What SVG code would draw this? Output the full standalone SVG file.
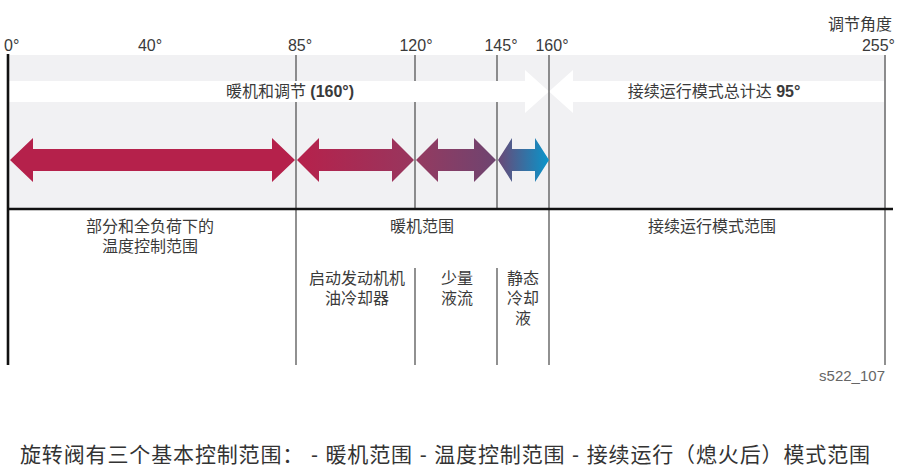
<svg xmlns="http://www.w3.org/2000/svg" width="900" height="474" viewBox="0 0 900 474">
<defs>
<style>
.t{font-family:"Liberation Sans","Noto Sans CJK SC",sans-serif;fill:#3a3a3a;}
.deg{font-size:16px;}
.lbl{font-size:16px;text-anchor:middle;}
.vl{stroke:#555;stroke-width:1.3;fill:none;}
</style>
<linearGradient id="g2" gradientUnits="userSpaceOnUse" x1="297" y1="0" x2="414" y2="0"><stop offset="0" stop-color="#b6214b"/><stop offset="1" stop-color="#98365e"/></linearGradient>
<linearGradient id="g3" gradientUnits="userSpaceOnUse" x1="416" y1="0" x2="496" y2="0"><stop offset="0" stop-color="#953a60"/><stop offset="1" stop-color="#6e4470"/></linearGradient>
<linearGradient id="g4" gradientUnits="userSpaceOnUse" x1="498" y1="0" x2="549" y2="0"><stop offset="0" stop-color="#6a4876"/><stop offset="1" stop-color="#0895cb"/></linearGradient>
</defs>
<rect width="900" height="474" fill="#ffffff"/>
<g id="background">
<rect x="8" y="55" width="878" height="154" fill="#f1f1f3"/>
</g>
<g id="connectors">
<line class="vl" x1="296" y1="55" x2="296" y2="365"/>
<line class="vl" x1="415" y1="55" x2="415" y2="209"/>
<line class="vl" x1="415" y1="268" x2="415" y2="365"/>
<line class="vl" x1="497" y1="55" x2="497" y2="209"/>
<line class="vl" x1="497" y1="268" x2="497" y2="365"/>
<line class="vl" x1="885" y1="55" x2="885" y2="365"/>
</g>
<g id="white-arrows">
<path d="M9,81 L525,81 L525,70 L549,91.5 L525,113 L525,102 L9,102 Z" fill="#ffffff"/>
<path d="M884,81 L573,81 L573,70 L549,91.5 L573,113 L573,102 L884,102 Z" fill="#ffffff"/>
<text class="t" x="290" y="97" font-size="16" text-anchor="middle">暖机和调节 <tspan font-weight="bold">(160°)</tspan></text>
<text class="t" x="714" y="97" font-size="16" text-anchor="middle">接续运行模式总计达 <tspan font-weight="bold">95°</tspan></text>
</g>
<g id="axis">
<line x1="549" y1="55" x2="549" y2="365" class="vl"/>
<line x1="8" y1="54" x2="8" y2="365" stroke="#111" stroke-width="2.6"/>
<line x1="7" y1="209" x2="893" y2="209" stroke="#111" stroke-width="2.4"/>
<text class="t deg" x="4" y="51">0°</text>
<text class="t deg" x="150" y="51" text-anchor="middle">40°</text>
<text class="t deg" x="300" y="51" text-anchor="middle">85°</text>
<text class="t deg" x="416" y="51" text-anchor="middle">120°</text>
<text class="t deg" x="501" y="51" text-anchor="middle">145°</text>
<text class="t deg" x="552" y="51" text-anchor="middle">160°</text>
<text class="t deg" x="895" y="51" text-anchor="end">255°</text>
<text class="t" x="892" y="30" font-size="16" text-anchor="end">调节角度</text>
</g>
<g id="arrow1">
<path d="M10,160 L33,138 L33,149 L272,149 L272,138 L295,160 L272,182 L272,171 L33,171 L33,182 Z" fill="#b5214b"/>
</g>
<g id="arrow2">
<path d="M297,160 L319,138 L319,149 L392,149 L392,138 L414,160 L392,182 L392,171 L319,171 L319,182 Z" fill="url(#g2)"/>
</g>
<g id="arrow3">
<path d="M416,160 L438,138 L438,149 L474,149 L474,138 L496,160 L474,182 L474,171 L438,171 L438,182 Z" fill="url(#g3)"/>
</g>
<g id="arrow4">
<path d="M498,160 L512,138 L512,149 L535,149 L535,138 L549,160 L535,182 L535,171 L512,171 L512,182 Z" fill="url(#g4)"/>
</g>
<g id="label-temp">
<text class="t lbl" x="150" y="232">部分和全负荷下的</text>
<text class="t lbl" x="150" y="252">温度控制范围</text>
</g>
<g id="label-warmup">
<text class="t lbl" x="422" y="232">暖机范围</text>
</g>
<g id="label-afterrun">
<text class="t lbl" x="712" y="232">接续运行模式范围</text>
</g>
<g id="label-oilcooler">
<text class="t lbl" x="357" y="284">启动发动机机</text>
<text class="t lbl" x="357" y="304">油冷却器</text>
</g>
<g id="label-lowflow">
<text class="t lbl" x="457" y="284">少量</text>
<text class="t lbl" x="457" y="304">液流</text>
</g>
<g id="label-static">
<text class="t lbl" x="523" y="284">静态</text>
<text class="t lbl" x="523" y="304">冷却</text>
<text class="t lbl" x="523" y="324">液</text>
</g>
<text class="t" x="885" y="381" font-size="15" text-anchor="end" fill="#666" style="fill:#666">s522_107</text>
<text class="t" x="20" y="462" font-size="21" textLength="850" lengthAdjust="spacing" style="fill:#333">旋转阀有三个基本控制范围： - 暖机范围 - 温度控制范围 - 接续运行（熄火后）模式范围</text>
</svg>
